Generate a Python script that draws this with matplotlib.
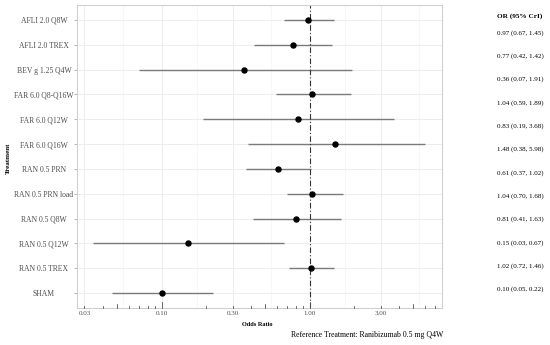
import numpy as np
import matplotlib.pyplot as plt
import matplotlib.transforms as mtransforms

plt.rcParams['font.family'] = ['Liberation Serif', 'DejaVu Serif']

# Forest plot data (odds ratio vs reference treatment)
treatments = ["AFLI 2.0 Q8W", "AFLI 2.0 TREX", "BEV g 1.25 Q4W", "FAR 6.0 Q8-Q16W",
              "FAR 6.0 Q12W", "FAR 6.0 Q16W", "RAN 0.5 PRN", "RAN 0.5 PRN load",
              "RAN 0.5 Q8W", "RAN 0.5 Q12W", "RAN 0.5 TREX", "SHAM"]
odds = [0.97, 0.77, 0.36, 1.04, 0.83, 1.48, 0.61, 1.04, 0.81, 0.15, 1.02, 0.10]
lower = [0.67, 0.42, 0.07, 0.59, 0.19, 0.38, 0.37, 0.70, 0.41, 0.034, 0.72, 0.046]
upper = [1.45, 1.42, 1.91, 1.89, 3.68, 5.98, 1.02, 1.68, 1.63, 0.67, 1.46, 0.22]
x_breaks = [0.03, 0.10, 0.30, 1.00, 3.00]

W, H = 550, 345
fig = plt.figure(figsize=(W / 100, H / 100), dpi=100)
ax = fig.add_axes([77 / W, 1 - 308 / H, (442 - 77) / W, (308 - 5) / H])

y = np.arange(len(treatments))

# grid
minor_grid = [np.sqrt(a * b) for a, b in zip(x_breaks[:-1], x_breaks[1:])] + [np.sqrt(3 * 10)]
for v in x_breaks:
    ax.axvline(v, color='#ededed', lw=0.7, zorder=0)
for v in minor_grid:
    ax.axvline(v, color='#f4f4f4', lw=0.5, zorder=0)
for yy in y:
    ax.axhline(yy, color='#ededed', lw=0.7, zorder=0)

ax.hlines(y, lower, upper, color='#7a7a7a', lw=1.0, zorder=2)
ax.plot(odds, y, 'o', color='black', ms=3.6, zorder=3)
ax.axvline(1.0, color='#333333', lw=0.8, linestyle=(0, (5, 2, 1, 2)), zorder=2)

ax.set_xscale('log')
ax.set_xlim(0.0267, 7.8)
ax.set_ylim(len(treatments) - 0.4, -0.6)

ax.set_xticks(x_breaks)
ax.set_xticklabels([f"{v:.2f}" for v in x_breaks])
ax.xaxis.set_minor_locator(plt.NullLocator())
ax.tick_params(axis='x', length=0, pad=2.5, labelsize=5, labelcolor='#4d4d4d')
ax.set_yticks(y)
ax.set_yticklabels(treatments)
ax.tick_params(axis='y', length=2.5, width=0.5, color='#999999', pad=21.3,
               labelsize=5.5, labelcolor='#4d4d4d')
plt.setp(ax.get_yticklabels(), ha='center')

for s in ax.spines.values():
    s.set_color('#d0d0d0')
    s.set_linewidth(0.8)

# log ticks along the bottom (inside)
trans = mtransforms.blended_transform_factory(ax.transData, ax.transAxes)
lo, hi = ax.get_xlim()
for dec in [0.01, 0.1, 1.0]:
    for m in range(1, 10):
        v = m * dec
        if lo < v < hi:
            h = 6 if m == 1 else (4 if m == 5 else 2)
            ax.plot([v, v], [0, h / 303], transform=trans, color='#555555', lw=0.6,
                    clip_on=False, zorder=4)

fig.text(8 / W, 1 - 158 / H, "Treatment", rotation=90, ha='center', va='center',
         fontsize=5, fontweight='bold')
fig.text(257 / W, 1 - 324 / H, "Odds Ratio", ha='center', va='center',
         fontsize=4.5, fontweight='bold')
fig.text(443 / W, 1 - 335 / H, "Reference Treatment: Ranibizumab 0.5 mg Q4W",
         ha='right', va='center', fontsize=5.6)

# right-hand table
fig.text(497 / W, 1 - 16 / H, "OR (95% CrI)", ha='left', va='center',
         fontsize=5.2, fontweight='bold')
for i, (o, l, u) in enumerate(zip(odds, lower, upper)):
    fig.text(497 / W, 1 - (33 + i * 23.3) / H, f"{o:.2f} ({l:.2f}, {u:.2f})",
             ha='left', va='center', fontsize=5)

fig.savefig("out.png", dpi=100)
